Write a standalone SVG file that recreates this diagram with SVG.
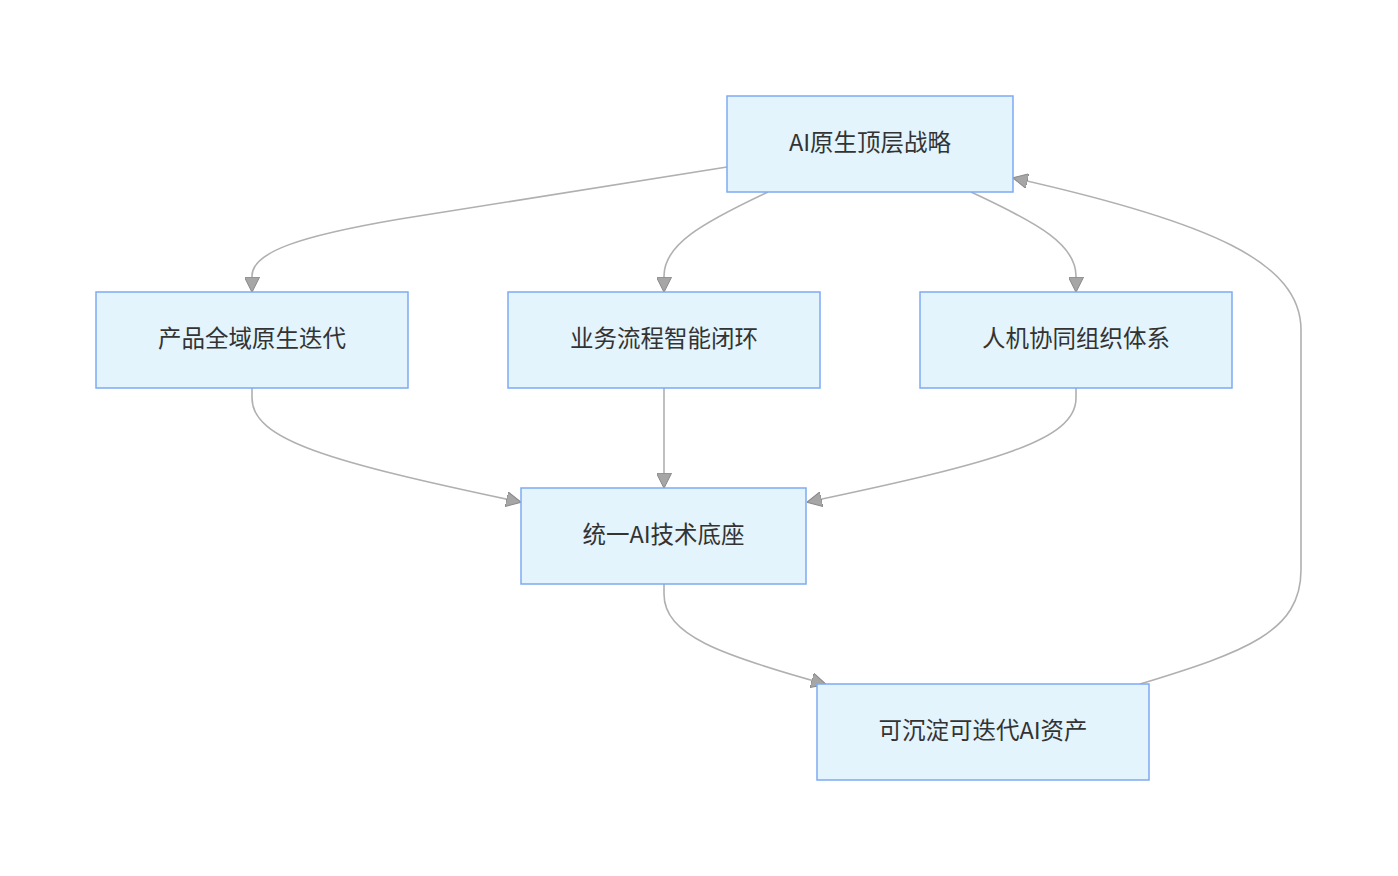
<svg xmlns="http://www.w3.org/2000/svg" width="1398" height="876" viewBox="0 0 1398 876">
<style>
.node rect{fill:#e3f4fd;stroke:#7eaaf2;stroke-width:1.5}
.node text{font-family:"Noto Sans CJK SC","Noto Sans",sans-serif;font-size:23.5px;fill:#333;text-anchor:middle;dominant-baseline:central}
.edge{fill:none;stroke:#b0b0b0;stroke-width:1.6}
</style>
<defs>
<marker id="arr" viewBox="0 0 12 12" refX="11" refY="6" markerWidth="15" markerHeight="15" markerUnits="userSpaceOnUse" orient="auto">
<path d="M0,0 L12,6 L0,12 Z" fill="#a6a6a6" stroke="#888" stroke-width="0.8"/>
</marker>
</defs>
<rect width="1398" height="876" fill="#fff"/>
<g id="connectors">
<path class="edge" marker-end="url(#arr)" d="M727,167 L400,219 C300,236 252,252 252,276 L252,291"/>
<path class="edge" marker-end="url(#arr)" d="M768,192 C700,224 664,245 664,276 L664,291"/>
<path class="edge" marker-end="url(#arr)" d="M971,192 C1040,224 1076,245 1076,276 L1076,291"/>
<path class="edge" marker-end="url(#arr)" d="M252,388 L252,398 C252,440 330,462 520,502"/>
<path class="edge" marker-end="url(#arr)" d="M664,388 L664,487"/>
<path class="edge" marker-end="url(#arr)" d="M1076,388 L1076,398 C1076,440 998,462 808,502"/>
<path class="edge" marker-end="url(#arr)" d="M664,584 L664,594 C664,635 720,655 825,684"/>
<path class="edge" marker-end="url(#arr)" d="M1140,684 C1245,652 1301,632 1301,570 L1301,330 C1301,262 1210,222 1014,178"/>
</g>
<g id="n1" class="node"><rect x="727" y="96" width="286" height="96"/><text x="870" y="141">AI原生顶层战略</text></g>
<g id="n2" class="node"><rect x="96" y="292" width="312" height="96"/><text x="252" y="337">产品全域原生迭代</text></g>
<g id="n3" class="node"><rect x="508" y="292" width="312" height="96"/><text x="664" y="337">业务流程智能闭环</text></g>
<g id="n4" class="node"><rect x="920" y="292" width="312" height="96"/><text x="1076" y="337">人机协同组织体系</text></g>
<g id="n5" class="node"><rect x="521" y="488" width="285" height="96"/><text x="663.5" y="533">统一AI技术底座</text></g>
<g id="n6" class="node"><rect x="817" y="684" width="332" height="96"/><text x="983" y="729">可沉淀可迭代AI资产</text></g>
</svg>
